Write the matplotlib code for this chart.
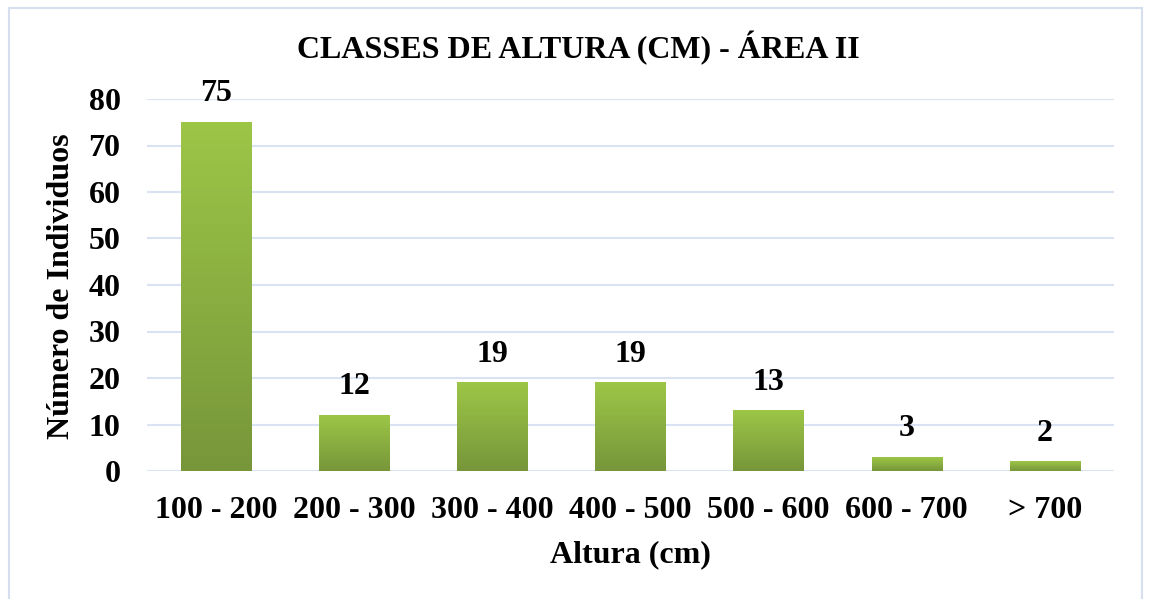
import numpy as np
import matplotlib.pyplot as plt
from matplotlib.colors import LinearSegmentedColormap
from matplotlib.patches import Rectangle

classes = ['100 - 200', '200 - 300', '300 - 400', '400 - 500', '500 - 600', '600 - 700', '> 700']
individuos = [75, 12, 19, 19, 13, 3, 2]
yticks = [0, 10, 20, 30, 40, 50, 60, 70, 80]

plt.rcParams['font.family'] = ['Liberation Serif', 'DejaVu Serif']
plt.rcParams['font.weight'] = 'bold'

fig = plt.figure(figsize=(11.49, 5.99), dpi=100)
ax = fig.add_axes([147 / 1149, 1 - 471 / 599, (1114 - 147) / 1149, (471 - 99) / 599])

# chart border
fig.patches.append(Rectangle((9 / 1149, -0.1), (1142 - 9) / 1149, 1.1 - 8 / 599,
                             transform=fig.transFigure, fill=False,
                             edgecolor='#D5DFEF', linewidth=1.5))

x = np.arange(len(classes))
bars = ax.bar(x, individuos, width=0.51, color='none', zorder=2)

green = LinearSegmentedColormap.from_list('g', ['#77963A', '#9DC647'])
grad = np.linspace(0, 1, 256).reshape(-1, 1)
for b in bars:
    x0, w, h = b.get_x(), b.get_width(), b.get_height()
    ax.imshow(grad, cmap=green, origin='lower', aspect='auto',
              extent=(x0, x0 + w, 0, h), zorder=2)

for xi, v in zip(x, individuos):
    ax.annotate(str(v), (xi, v), xytext=(0, 10), textcoords='offset points',
                ha='center', va='bottom', fontsize=23, fontweight='bold')

ax.set_xlim(-0.5, len(classes) - 0.5)
ax.set_ylim(0, 80)
ax.set_yticks(yticks)
ax.set_xticks(x)
ax.set_xticklabels(classes)
ax.tick_params(axis='both', length=0, labelsize=23)
ax.tick_params(axis='x', pad=18)
ax.tick_params(axis='y', pad=19)
ax.grid(axis='y', color='#D9E3F3', linewidth=1.5, zorder=0)
ax.set_axisbelow(True)
for s in ax.spines.values():
    s.set_visible(False)

ax.set_ylabel('Número de Individuos', fontsize=23, fontweight='bold')
ax.yaxis.set_label_coords(-0.088, 0.497)
ax.set_xlabel('Altura (cm)', fontsize=23, fontweight='bold')
ax.xaxis.set_label_coords(0.5, -0.226)
ax.xaxis.label.set_va('center')
ax.yaxis.label.set_va('center')
fig.text(578 / 1149, 1 - 48 / 599, 'CLASSES DE ALTURA (CM) - ÁREA II',
         ha='center', va='center', fontsize=23, fontweight='bold')

fig.savefig('out.png', dpi=100)
